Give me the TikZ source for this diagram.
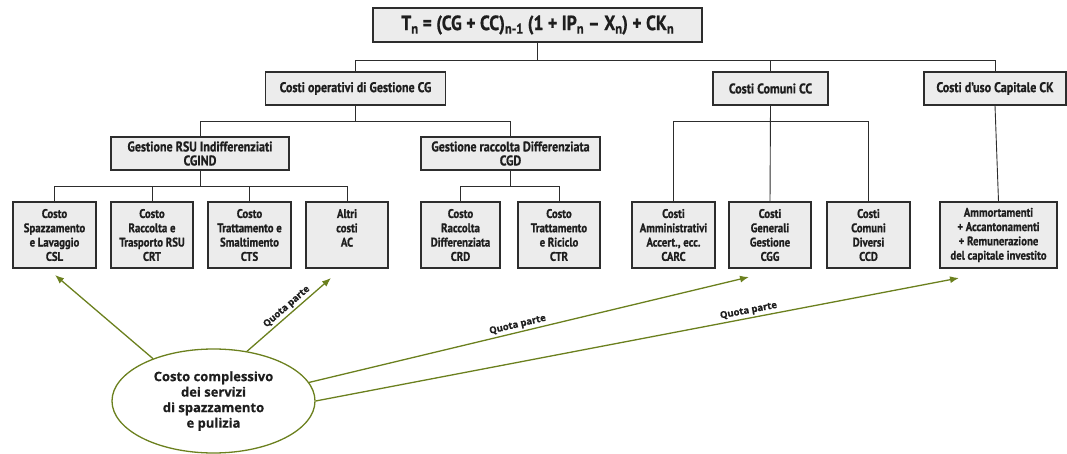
\documentclass[tikz,border=0pt]{standalone}
\usepackage{fontspec}
\usetikzlibrary{shapes.geometric,arrows.meta}
\setmainfont{Open Sans}[BoldFont={Open Sans Bold},BoldFeatures={FakeBold=0.6}]
\newfontfamily\condf{PT Sans}[FakeStretch=0.86,BoldFont={PT Sans Bold},BoldFeatures={FakeStretch=0.86,FakeBold=0.8}]
\definecolor{olive}{RGB}{107,128,30}
\definecolor{boxfill}{RGB}{236,236,236}
\definecolor{boxline}{RGB}{45,45,45}
\definecolor{txt}{RGB}{30,30,30}
\newcommand{\lowr}[1]{\raisebox{-0.35ex}{\fontsize{14.5}{14.5}\selectfont #1}}
\begin{document}
\begin{tikzpicture}[x=1pt,y=-1pt,
  cbox/.style={draw=boxline,line width=1.2pt,fill=boxfill,text=txt,inner sep=0pt,
    font=\condf\bfseries\fontsize{14}{14}\selectfont,align=center},
  leaf/.style={cbox,minimum height=66pt,font=\condf\bfseries\fontsize{12.5}{14.3}\selectfont},
  tree/.style={draw=boxline,line width=0.9pt},
  garrow/.style={draw=olive,line width=1.3pt,-{Latex[length=9pt,width=7pt]}},
  qlab/.style={font=\bfseries\fontsize{9.5}{10}\selectfont,text=txt,sloped,above,inner sep=2pt}]
\useasboundingbox (0,0) rectangle (1067,454);
% top
\node[cbox,minimum width=329pt,minimum height=34pt,font=\condf\bfseries\fontsize{20.5}{21}\selectfont] (top) at (537.5,25)
  {T\lowr{n} = (CG + CC)\lowr{n-1} (1 + IP\lowr{n} – X\lowr{n}) + CK\lowr{n}};
% level 1
\node[cbox,minimum width=180pt,minimum height=33pt] (cg) at (355.5,88.5) {Costi operativi di Gestione CG};
\node[cbox,minimum width=115pt,minimum height=33pt] (cc) at (770.5,88.5) {Costi Comuni CC};
\node[cbox,minimum width=142pt,minimum height=33pt] (ck) at (995,88.5) {Costi d’uso Capitale CK};
% level 2
\node[cbox,minimum width=178pt,minimum height=33pt] (rsu) at (200,153.5) {Gestione RSU Indifferenziati\\CGIND};
\node[cbox,minimum width=179pt,minimum height=33pt] (gcd) at (510.5,153.5) {Gestione raccolta Differenziata\\CGD};
% leaves
\node[leaf,minimum width=83pt] (csl) at (54.5,235) {Costo\\Spazzamento\\e Lavaggio\\CSL};
\node[leaf,minimum width=82pt] (crt) at (152,235) {Costo\\Raccolta e\\Trasporto RSU\\CRT};
\node[leaf,minimum width=83pt] (cts) at (249.5,235) {Costo\\Trattamento e\\Smaltimento\\CTS};
\node[leaf,minimum width=82pt] (ac) at (347,235) {Altri\\costi\\AC\\\phantom{X}};
\node[leaf,minimum width=79pt] (crd) at (460.5,235) {Costo\\Raccolta\\Differenziata\\CRD};
\node[leaf,minimum width=82pt] (ctr) at (559,235) {Costo\\Trattamento\\e Riciclo\\CTR};
\node[leaf,minimum width=83pt] (carc) at (673.5,235) {Costi\\Amministrativi\\Accert., ecc.\\CARC};
\node[leaf,minimum width=82pt] (cgg) at (770,235) {Costi\\Generali\\Gestione\\CGG};
\node[leaf,minimum width=83pt] (ccd) at (868.5,235) {Costi\\Comuni\\Diversi\\CCD};
\node[leaf,minimum width=117pt] (ckl) at (998.5,235) {Ammortamenti\\+ Accantonamenti\\+ Remunerazione\\del capitale investito};
% tree connectors
\draw[tree] (top.south) -- (top.south |- 0,60);
\draw[tree] (cg.north) |- (0,60 -| ck.north) -- (ck.north);
\draw[tree] (cc.north) -- (cc.north |- 0,60);
\draw[tree] (cg.south) -- (cg.south |- 0,121);
\draw[tree] (rsu.north) |- (0,121 -| gcd.north) -- (gcd.north);
\draw[tree] (rsu.south) -- (rsu.south |- 0,186);
\draw[tree] (csl.north) |- (0,186 -| ac.north) -- (ac.north);
\draw[tree] (crt.north) -- (crt.north |- 0,186);
\draw[tree] (cts.north) -- (cts.north |- 0,186);
\draw[tree] (gcd.south) -- (gcd.south |- 0,186);
\draw[tree] (crd.north) |- (0,186 -| ctr.north) -- (ctr.north);
\draw[tree] (cc.south) -- (cgg.north);
\draw[tree] (carc.north) |- (0,121 -| ccd.north) -- (ccd.north);
\draw[tree] (ck.south) -- (ckl.north);
% ellipse
\node[ellipse,draw=olive,line width=1.3pt,minimum width=203pt,minimum height=104pt,inner sep=0pt,
  align=center,text=txt,font=\bfseries\fontsize{13}{15.5}\selectfont] (ell) at (213.5,401)
  {Costo complessivo\\dei servizi\\di spazzamento\\e pulizia};
\coordinate (a1) at (55,275);
\coordinate (a2) at (331,278);
\coordinate (a3) at (749,277);
\coordinate (a4) at (959,278);
\draw[garrow] (ell.145) -- (a1);
\draw[garrow] (ell.56) -- node[qlab,pos=0.53] {Quota parte} (a2);
\draw[garrow] (ell.11) -- node[qlab,pos=0.478] {Quota parte} (a3);
\draw[garrow] (ell.0) -- node[qlab,pos=0.675] {Quota parte} (a4);
\end{tikzpicture}
\end{document}
